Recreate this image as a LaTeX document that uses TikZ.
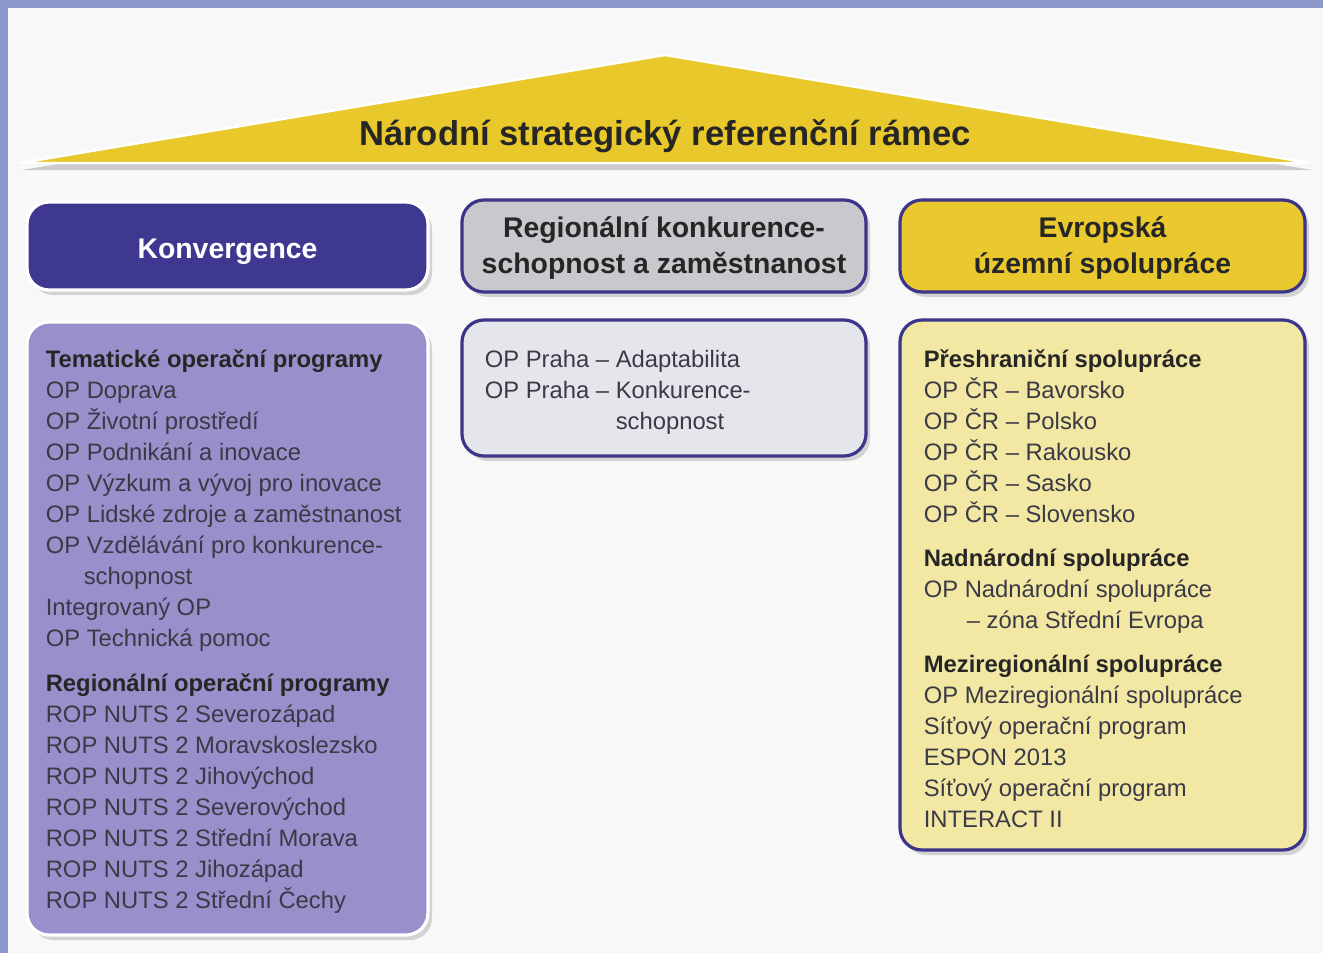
\documentclass[tikz,border=0pt]{standalone}
\usepackage{fontspec}
\setmainfont{Liberation Sans}
\usetikzlibrary{positioning,shadows}

\definecolor{framebg}{HTML}{8E97CC}
\definecolor{paper}{HTML}{F8F8F8}
\definecolor{roofyellow}{HTML}{E9C82B}
\definecolor{konvblue}{HTML}{3E3891}
\definecolor{konvlilac}{HTML}{9A8ECB}
\definecolor{rkzgray}{HTML}{C8C8CD}
\definecolor{rkzlight}{HTML}{E4E6EC}
\definecolor{eusyellow}{HTML}{E9C92E}
\definecolor{euslight}{HTML}{F2E7A3}
\definecolor{edgeblue}{HTML}{3B368A}
\definecolor{listgray}{HTML}{3A3A46}
\definecolor{headdark}{HTML}{262626}

\tikzset{
  box/.style={rounded corners=11pt, line width=1.6pt,
    drop shadow={opacity=0.3, shadow xshift=2pt, shadow yshift=-2.5pt}},
  headbox/.style={box, align=center, text=headdark,
    font=\fontsize{14.2}{18}\selectfont\bfseries},
  listtext/.style={anchor=north west, align=left, inner sep=0pt,
    text=listgray, font=\fontsize{11.9}{15.5}\selectfont}
}
\newcommand{\grp}[1]{\textcolor{headdark}{\textbf{#1}}}
\newcommand{\lowstrut}{\rule{0pt}{12pt}}

\begin{document}
\begin{tikzpicture}[x=0.5pt, y=-0.5pt]
  \useasboundingbox (0,0) rectangle (1323,953);
  % paper and frame
  \fill[paper] (0,0) rectangle (1323,953);
  \fill[framebg] (0,0) rectangle (1323,8);
  \fill[framebg] (0,0) rectangle (8,953);

  % the roof, with its title
  \fill[black, opacity=0.18] (22,170) -- (665,62) -- (1312,170) -- cycle;
  \filldraw[roofyellow, draw=white, line width=1.2pt]
    (20,163) -- (665,55) -- (1310,163) -- cycle;
  \node[font=\fontsize{17.3}{20}\selectfont\bfseries, text=headdark]
    (nsrr) at (665,136) {Národní strategický referenční rámec};

  % three headers
  \node[headbox, fill=konvblue, draw=white, text=white,
    text height=15.5pt, text depth=3pt,
    minimum width=200.5pt, minimum height=44pt] (konv) at (227.5,246)
    {Konvergence};
  \node[headbox, fill=rkzgray, draw=edgeblue,
    minimum width=202pt, minimum height=46pt] (rkz) at (664,246)
    {\lowstrut Regionální konkurence-\\schopnost a zaměstnanost};
  \node[headbox, fill=eusyellow, draw=edgeblue,
    minimum width=202.5pt, minimum height=46pt] (eus) at (1102.5,246)
    {\lowstrut Evropská\\územní spolupráce};

  % three bodies
  \node[box, fill=konvlilac, draw=white,
    minimum width=200.5pt, minimum height=306.5pt] (konvbody) at (227.5,628.5) {};
  \node[box, fill=rkzlight, draw=edgeblue,
    minimum width=202pt, minimum height=68pt] (rkzbody) at (664,388) {};
  \node[box, fill=euslight, draw=edgeblue,
    minimum width=202.5pt, minimum height=265pt] (eusbody) at (1102.5,585) {};

  % lists
  \node[listtext] (konvlist) at ([xshift=10pt, yshift=-14.5pt]konvbody.north west) {%
    \grp{Tematické operační programy}\\
    OP Doprava\\
    OP Životní prostředí\\
    OP Podnikání a inovace\\
    OP Výzkum a vývoj pro inovace\\
    OP Lidské zdroje a zaměstnanost\\
    OP Vzdělávání pro konkurence-\\
    \hspace*{19pt}schopnost\\
    Integrovaný OP\\
    OP Technická pomoc\\[7pt]
    \grp{Regionální operační programy}\\
    ROP NUTS 2 Severozápad\\
    ROP NUTS 2 Moravskoslezsko\\
    ROP NUTS 2 Jihovýchod\\
    ROP NUTS 2 Severovýchod\\
    ROP NUTS 2 Střední Morava\\
    ROP NUTS 2 Jihozápad\\
    ROP NUTS 2 Střední Čechy};
  \node[listtext] (rkzlist) at ([xshift=12pt, yshift=-15.5pt]rkzbody.north west) {%
    OP Praha – Adaptabilita\\
    OP Praha – Konkurence-\\
    \phantom{OP Praha – }schopnost};
  \node[listtext] (euslist) at ([xshift=12.5pt, yshift=-15.5pt]eusbody.north west) {%
    \grp{Přeshraniční spolupráce}\\
    OP ČR – Bavorsko\\
    OP ČR – Polsko\\
    OP ČR – Rakousko\\
    OP ČR – Sasko\\
    OP ČR – Slovensko\\[6.5pt]
    \grp{Nadnárodní spolupráce}\\
    OP Nadnárodní spolupráce\\
    \hspace*{21.5pt}– zóna Střední Evropa\\[6.5pt]
    \grp{Meziregionální spolupráce}\\
    OP Meziregionální spolupráce\\
    Síťový operační program\\
    ESPON 2013\\
    Síťový operační program\\
    INTERACT II};
\end{tikzpicture}
\end{document}
